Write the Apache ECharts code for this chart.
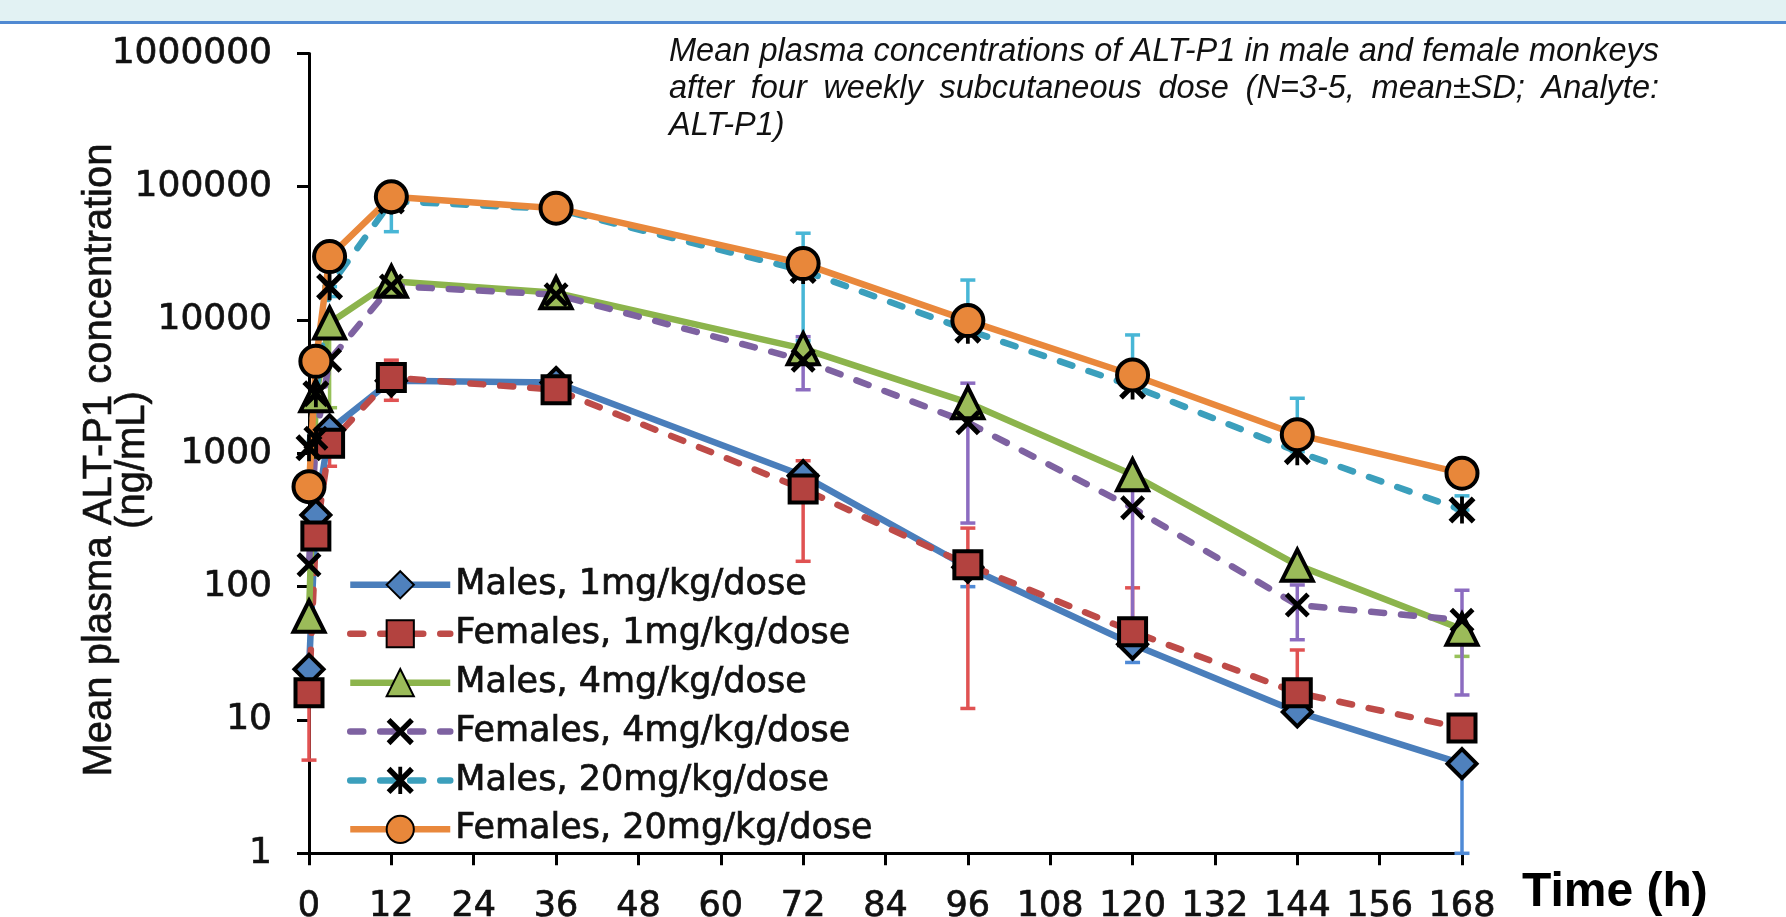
<!DOCTYPE html>
<html><head><meta charset="utf-8">
<script src="https://cdn.jsdelivr.net/npm/echarts@6/dist/echarts.min.js"></script>
<style>html,body{margin:0;padding:0;background:#fff}#c{width:1786px;height:917px}</style>
</head><body><div id="c"></div>
<script>
// ---- data ----
const times = [0, 1, 3, 12, 36, 72, 96, 120, 144, 168];
const seriesNames = ['Males, 1mg/kg/dose', 'Females, 1mg/kg/dose', 'Males, 4mg/kg/dose',
  'Females, 4mg/kg/dose', 'Males, 20mg/kg/dose', 'Females, 20mg/kg/dose'];
const males1 = [24, 345, 1500, 3500, 3400, 680, 140, 37, 11.5, 4.7];
const females1 = [16, 240, 1190, 3700, 3000, 540, 146, 46, 16, 8.7];
const males4 = [60, 2700, 9500, 19500, 16000, 6100, 2400, 690, 145, 48];
const females4 = [146, 1300, 5000, 18000, 15500, 5000, 1700, 390, 73, 56];
const males20 = [1100, 2800, 17800, 78000, 68000, 23500, 8400, 3200, 1030, 376];
const females20 = [562, 4900, 29900, 84000, 69000, 26500, 9900, 3870, 1380, 710];
// SD bars as visible: [time, low, high]
const sdMales1 = [[96, 100, 140], [120, 27, 37], [168, 1, 4.7]];
const sdFemales1 = [[0, 5, 16], [3, 800, 1190], [12, 2500, 5000], [72, 155, 880], [96, 12.2, 275], [120, 46, 98], [144, 16, 33.5]];
const sdMales4 = [[3, 2200, 9500], [168, 30, 48]];
const sdFemales4 = [[72, 3000, 7500], [96, 300, 3360], [120, 56, 690], [144, 40, 103], [168, 15.4, 94]];
const sdMales20 = [[3, 15000, 17800], [12, 46000, 106000], [72, 7000, 44800], [96, 8400, 19950], [120, 3200, 7730], [144, 1030, 2590], [168, 376, 480]];
const xTicks = [0, 12, 24, 36, 48, 60, 72, 84, 96, 108, 120, 132, 144, 156, 168];
const yTicks = [1, 10, 100, 1000, 10000, 100000, 1000000];
const titleLines = ['Mean plasma concentrations of ALT-P1 in male and female monkeys',
  'after four weekly subcutaneous dose (N=3-5, mean\u00b1SD; Analyte:', 'ALT-P1)'];
const yTitle = 'Mean plasma ALT-P1 concentration\n(ng/mL)';
const xTitle = 'Time (h)';

// ---- chart ----
const chart = echarts.init(document.getElementById('c'), null, {renderer: 'canvas'});

const X_PATH = 'path://M0,14L14,0L50,36L86,0L100,14L64,50L100,86L86,100L50,64L14,100L0,86L36,50Z';
const STAR_PATH = 'path://M0,14L14,0L43,29L43,0L57,0L57,29L86,0L100,14L64,50L100,86L86,100L57,71L57,100L43,100L43,71L14,100L0,86L36,50Z';

function pts(arr) { return times.map((t, i) => [t, arr[i]]); }

function errSeries(data, color) {
  return {
    type: 'custom', data: data, silent: true, z: 1, clip: false,
    encode: {x: 0, y: [1, 2]},
    renderItem: function (params, api) {
      const x = api.value(0), lo = api.value(1), hi = api.value(2);
      const p1 = api.coord([x, lo]), p2 = api.coord([x, hi]);
      const w = 7.5;
      const st = {stroke: color, lineWidth: 3.5};
      return {type: 'group', children: [
        {type: 'line', shape: {x1: p1[0], y1: p1[1], x2: p2[0], y2: p2[1]}, style: st},
        {type: 'line', shape: {x1: p1[0] - w, y1: p1[1], x2: p1[0] + w, y2: p1[1]}, style: st},
        {type: 'line', shape: {x1: p2[0] - w, y1: p2[1], x2: p2[0] + w, y2: p2[1]}, style: st}
      ]};
    }
  };
}

function lineSeries(name, arr, color, fill, symbol, size, dashed) {
  return {
    name: name, type: 'line', data: pts(arr), symbol: symbol, symbolSize: size,
    showAllSymbol: true, clip: false, z: 3,
    lineStyle: {color: color, width: 6.5, type: dashed ? [13, 17] : 'solid', cap: dashed ? 'round' : 'butt'},
    itemStyle: {color: fill, borderColor: '#000', borderWidth: symbol.indexOf('path') === 0 ? 0 : 4}
  };
}

// justified italic title
const tFontSize = 32.5, tScale = 1;
const titleFont = 'italic ' + tFontSize + 'px "Liberation Sans"';
const tl = 669, tr = 1659, baseYs = [63, 100, 137];
const mctx = document.createElement('canvas').getContext('2d');
mctx.font = titleFont;
const titleEls = [];
titleLines.forEach((line, li) => {
  const words = line.split(' ');
  const ws = words.map(w => mctx.measureText(w).width * tScale);
  const sum = ws.reduce((a, b) => a + b, 0);
  const last = li === titleLines.length - 1;
  const gap = last ? mctx.measureText(' ').width * tScale : (tr - tl - sum) / (words.length - 1);
  let x = tl;
  words.forEach((w, k) => {
    titleEls.push({type: 'text', x: x, y: baseYs[li] - 11, scaleX: tScale, silent: true,
      style: {text: w, font: titleFont, fill: '#111', textAlign: 'left', textVerticalAlign: 'middle', align: 'left', verticalAlign: 'middle'}});
    x += ws[k] + gap;
  });
});

const heavy = {textBorderColor: '#111', textBorderWidth: 0.7};

const option = {
  animation: false,
  backgroundColor: '#ffffff',
  grid: {left: 309, right: 324, top: 53.4, bottom: 63.7, containLabel: false, outerBoundsMode: 'none'},
  xAxis: {
    type: 'value', min: 0, max: 168, interval: 12,
    axisLine: {show: true, lineStyle: {color: '#000', width: 3}},
    axisTick: {show: true, length: 12, inside: false, lineStyle: {color: '#000', width: 3}},
    axisLabel: Object.assign({margin: 36, fontSize: 35, fontFamily: 'DejaVu Sans', color: '#111',
      formatter: v => (xTicks.indexOf(Math.round(v)) >= 0 ? String(Math.round(v)) : '')}, heavy),
    splitLine: {show: false}
  },
  yAxis: {
    type: 'log', logBase: 10, min: 1, max: 1000000,
    axisLine: {show: true, lineStyle: {color: '#000', width: 3}},
    axisTick: {show: true, length: 12, inside: false, lineStyle: {color: '#000', width: 3}},
    axisLabel: Object.assign({margin: 37, fontSize: 36, fontFamily: 'DejaVu Sans', color: '#111',
      formatter: v => { const r = Math.round(v); return yTicks.indexOf(r) >= 0 ? String(r) : ''; }}, heavy),
    splitLine: {show: false}, minorTick: {show: false}
  },
  legend: {
    orient: 'vertical', left: 347, top: 567, padding: 0, itemWidth: 100, itemHeight: 34, itemGap: 13.2,
    selectedMode: false, data: seriesNames,
    lineStyle: {width: 6.5},
    textStyle: Object.assign({fontSize: 35, fontFamily: 'DejaVu Sans', color: '#111'}, heavy)
  },
  graphic: [
    {type: 'rect', shape: {x: 0, y: 0, width: 1786, height: 21}, style: {fill: '#e2f2f3'}, silent: true},
    {type: 'rect', shape: {x: 0, y: 21, width: 1786, height: 3}, style: {fill: '#5089d2'}, silent: true},
    {type: 'text', x: 116, y: 460, rotation: Math.PI / 2, silent: true,
      style: {text: yTitle, font: '40px "Liberation Sans"', lineHeight: 33, fill: '#111',
        stroke: '#111', lineWidth: 0.6,
        textAlign: 'center', textVerticalAlign: 'middle', align: 'center', verticalAlign: 'middle'}},
    {type: 'text', x: 1522, y: 893, silent: true,
      style: {text: xTitle, font: 'bold 48px "Liberation Sans"', fill: '#000',
        textAlign: 'left', textVerticalAlign: 'middle', align: 'left', verticalAlign: 'middle'}}
  ].concat(titleEls),
  series: [
    errSeries(sdMales1, '#4f8ad6'),
    errSeries(sdFemales1, '#e05252'),
    errSeries(sdMales4, '#97c15a'),
    errSeries(sdFemales4, '#8c6cc0'),
    errSeries(sdMales20, '#48b6d6'),
    lineSeries(seriesNames[0], males1, '#4a7ebb', '#4f81bd', 'diamond', 29, false),
    lineSeries(seriesNames[1], females1, '#be4b48', '#b3423f', 'rect', 27, true),
    lineSeries(seriesNames[2], males4, '#8cb44c', '#9bbb59', 'triangle', 31, false),
    lineSeries(seriesNames[3], females4, '#7e62a1', '#000', X_PATH, 25, true),
    lineSeries(seriesNames[4], males20, '#3b9fbc', '#000', STAR_PATH, 27, true),
    lineSeries(seriesNames[5], females20, '#e9883c', '#e8873a', 'circle', 31, false)
  ]
};
chart.setOption(option);
</script>
</body></html>
